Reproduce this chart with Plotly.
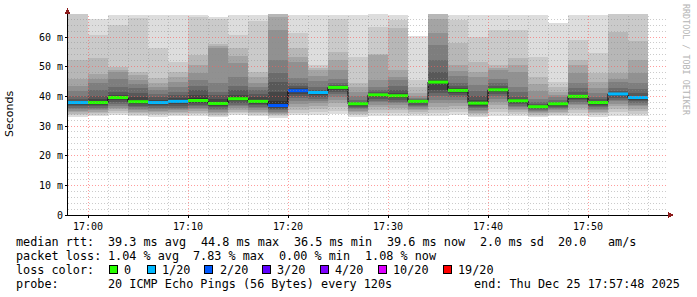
import plotly.graph_objects as go
from datetime import datetime, timedelta

# ---------------- data ----------------
slot_start = [
    "2025-12-25 16:58", "2025-12-25 17:00", "2025-12-25 17:02", "2025-12-25 17:04",
    "2025-12-25 17:06", "2025-12-25 17:08", "2025-12-25 17:10", "2025-12-25 17:12",
    "2025-12-25 17:14", "2025-12-25 17:16", "2025-12-25 17:18", "2025-12-25 17:20",
    "2025-12-25 17:22", "2025-12-25 17:24", "2025-12-25 17:26", "2025-12-25 17:28",
    "2025-12-25 17:30", "2025-12-25 17:32", "2025-12-25 17:34", "2025-12-25 17:36",
    "2025-12-25 17:38", "2025-12-25 17:40", "2025-12-25 17:42", "2025-12-25 17:44",
    "2025-12-25 17:46", "2025-12-25 17:48", "2025-12-25 17:50", "2025-12-25 17:52",
    "2025-12-25 17:54",
]
step_seconds = 120

median_ms = [37.9, 37.9, 39.6, 38.2, 37.9, 38.3, 38.6, 37.6, 39.2, 38.3,
             36.9, 41.9, 41.3, 43.0, 37.5, 40.5, 40.2, 38.3, 44.8, 42.0,
             37.7, 42.2, 38.5, 36.5, 37.5, 40.0, 37.9, 40.8, 39.6]

loss_count = [1, 0, 0, 0, 1, 1, 0, 0, 0, 0,
              2, 2, 1, 0, 0, 0, 0, 0, 0, 0,
              0, 0, 0, 0, 0, 0, 0, 1, 1]

# 20 pings per round (ms), sorted low -> high
pings_ms = [
    [33.3, 33.8, 34.3, 34.8, 35.3, 35.8, 36.4, 36.9, 37.3, 37.7, 38.1, 38.6, 39.0, 40.0, 41.7, 43.4, 46.0, 52.2, 68.5, 72.0],
    [33.5, 34.0, 34.5, 35.0, 35.4, 35.9, 36.3, 36.8, 37.2, 37.6, 38.2, 39.0, 40.2, 42.0, 44.6, 46.0, 47.5, 52.8, 60.7, 66.0],
    [33.6, 34.3, 35.0, 35.8, 36.4, 37.0, 37.6, 38.2, 38.8, 39.4, 39.8, 40.4, 41.5, 43.2, 46.0, 48.3, 49.0, 50.0, 64.0, 67.4],
    [33.4, 33.9, 34.4, 35.0, 35.5, 36.0, 36.5, 37.0, 37.5, 37.9, 38.8, 39.9, 41.0, 42.7, 44.0, 45.5, 47.2, 48.3, 66.3, 67.5],
    [33.3, 33.8, 34.3, 34.8, 35.3, 35.8, 36.3, 36.8, 37.2, 37.6, 38.2, 38.8, 39.8, 40.8, 42.1, 43.2, 44.5, 46.1, 56.4, 67.5],
    [33.4, 33.9, 34.4, 34.9, 35.4, 35.9, 36.4, 37.0, 37.5, 38.0, 38.6, 39.3, 40.3, 41.5, 43.0, 45.0, 46.5, 48.3, 51.5, 67.5],
    [33.5, 34.1, 34.7, 35.3, 35.9, 36.4, 36.9, 37.4, 37.9, 38.3, 39.3, 40.5, 42.1, 43.5, 45.5, 47.8, 50.5, 54.0, 66.8, 67.5],
    [33.2, 33.6, 34.0, 34.5, 35.0, 35.5, 36.0, 36.5, 36.9, 37.3, 38.0, 39.0, 40.5, 41.6, 44.4, 56.5, 57.0, 57.5, 66.3, 66.8],
    [33.6, 34.3, 35.0, 35.6, 36.2, 36.8, 37.4, 38.0, 38.5, 39.0, 39.6, 40.6, 42.0, 43.5, 46.5, 51.2, 53.5, 56.3, 60.7, 67.5],
    [33.4, 33.9, 34.4, 35.0, 35.5, 36.1, 36.6, 37.1, 37.6, 38.0, 38.8, 39.8, 40.8, 42.0, 43.0, 44.5, 46.5, 48.2, 65.5, 67.5],
    [33.0, 33.4, 33.8, 34.2, 34.6, 35.0, 35.4, 35.8, 36.2, 36.6, 38.5, 41.5, 45.0, 47.8, 52.2, 62.4, 66.8, 68.5, 70.0, 72.0],
    [33.6, 34.5, 35.5, 36.5, 37.5, 38.4, 39.3, 40.2, 41.0, 41.6, 42.2, 42.8, 43.5, 44.6, 46.2, 51.5, 53.3, 56.3, 61.3, 67.5],
    [33.8, 34.8, 35.8, 36.8, 37.7, 38.5, 39.2, 39.9, 40.5, 41.0, 41.5, 41.8, 42.3, 43.3, 45.2, 46.9, 48.9, 49.7, 50.5, 67.5],
    [33.9, 35.2, 36.5, 37.7, 38.8, 39.8, 40.7, 41.5, 42.2, 42.8, 43.2, 43.4, 43.8, 44.6, 46.0, 49.0, 52.2, 55.0, 66.0, 67.5],
    [33.3, 33.8, 34.3, 34.8, 35.3, 35.8, 36.2, 36.6, 37.0, 37.3, 37.7, 37.9, 38.3, 38.8, 40.2, 41.6, 43.0, 44.5, 53.3, 67.5],
    [33.5, 34.5, 35.5, 36.4, 37.2, 38.0, 38.7, 39.3, 39.8, 40.2, 40.7, 41.0, 41.6, 42.2, 43.3, 45.5, 54.0, 54.2, 63.5, 68.5],
    [33.5, 34.4, 35.3, 36.2, 37.0, 37.7, 38.4, 39.0, 39.5, 39.9, 40.4, 41.0, 42.1, 43.5, 45.5, 46.5, 48.9, 62.9, 65.7, 67.5],
    [33.4, 34.1, 34.8, 35.4, 36.0, 36.5, 37.0, 37.4, 37.8, 38.1, 38.4, 38.6, 38.8, 39.1, 39.6, 40.2, 41.0, 43.3, 45.5, 60.5],
    [33.5, 34.4, 35.5, 36.5, 37.7, 38.8, 40.0, 41.2, 42.1, 44.5, 45.1, 45.5, 48.3, 52.2, 57.3, 61.2, 66.2, 70.0, 72.0, 75.0],
    [33.6, 34.7, 35.8, 36.8, 37.8, 38.8, 39.7, 40.5, 41.2, 41.8, 42.3, 43.0, 43.6, 44.6, 47.0, 48.5, 50.5, 57.9, 65.7, 67.5],
    [33.2, 33.7, 34.2, 34.7, 35.2, 35.7, 36.2, 36.6, 37.0, 37.4, 38.0, 38.8, 40.2, 41.8, 43.9, 46.6, 48.3, 51.7, 60.1, 67.5],
    [33.5, 34.7, 35.9, 37.0, 38.1, 39.1, 40.0, 40.8, 41.5, 42.0, 42.4, 42.8, 43.5, 44.4, 46.0, 48.9, 49.6, 50.5, 62.4, 67.5],
    [33.4, 34.1, 34.8, 35.4, 36.0, 36.5, 37.0, 37.5, 37.9, 38.3, 38.8, 39.2, 39.9, 41.5, 43.3, 48.3, 50.5, 53.0, 62.4, 67.5],
    [33.2, 33.6, 34.0, 34.4, 34.8, 35.1, 35.5, 35.8, 36.1, 36.4, 36.8, 37.0, 37.5, 38.2, 39.2, 41.7, 44.0, 46.6, 53.4, 67.5],
    [33.4, 34.0, 34.5, 35.0, 35.5, 35.9, 36.3, 36.7, 37.0, 37.3, 37.7, 37.9, 38.2, 38.8, 39.9, 40.6, 41.3, 43.0, 45.0, 64.6],
    [33.4, 34.4, 35.3, 36.2, 37.0, 37.7, 38.3, 38.9, 39.4, 39.8, 40.2, 40.5, 41.5, 42.8, 44.4, 47.8, 50.5, 52.2, 59.0, 67.5],
    [33.3, 33.9, 34.5, 35.0, 35.5, 36.0, 36.5, 36.9, 37.3, 37.7, 38.1, 38.4, 39.0, 39.9, 41.0, 42.7, 45.0, 47.8, 54.5, 67.5],
    [33.5, 34.6, 35.6, 36.6, 37.5, 38.3, 39.0, 39.6, 40.2, 40.6, 40.9, 41.2, 41.8, 42.8, 45.0, 46.0, 47.8, 61.8, 68.5, 70.0],
    [33.3, 34.2, 35.0, 35.8, 36.6, 37.3, 37.9, 38.5, 39.0, 39.4, 39.8, 40.2, 41.0, 42.5, 44.4, 48.0, 52.2, 58.5, 68.5, 70.0],
]

y_ticks = [0, 10, 20, 30, 40, 50, 60]
y_tick_text = ["0", "10 m", "20 m", "30 m", "40 m", "50 m", "60 m"]

loss_levels = [0, 1, 2, 3, 4, 10, 19]
loss_labels = ["0", "1/20", "2/20", "3/20", "4/20", "10/20", "19/20"]
loss_colors = ["#26ff00", "#00b8ff", "#0059ff", "#5e00ff", "#7e00ff", "#dd00ff", "#ff0000"]

rtt_stats = ["39.3 ms avg", "44.8 ms max", "36.5 ms min", "39.6 ms now", "2.0 ms sd", "20.0", "am/s"]
loss_stats = ["1.04 % avg", "7.83 % max", "0.00 % min", "1.08 % now"]
probe_text = "20 ICMP Echo Pings (56 Bytes) every 120s"
end_text = "end: Thu Dec 25 17:57:48 2025"

# ---------------- layout geometry (pixels) ----------------
W, H = 697, 297
PL, PR, PT, PB = 68, 668, 14, 215
PX_PER_MS = (215 - 37) / 60.0
y_top = (PB - PT) / PX_PER_MS


def px(x):
    return (x - PL) / (PR - PL)


def py(y):
    return (PB - y) / (PB - PT)


starts = [datetime.strptime(s, "%Y-%m-%d %H:%M") for s in slot_start]
ends = [s + timedelta(seconds=step_seconds) for s in starts]
x_min = starts[0]
x_max = starts[0] + timedelta(minutes=60)

fig = go.Figure()

# ---------------- smoke ----------------
n = 20
half = n / 2
for j in range(1, n):  # band between ping j and j+1 (1-based)
    k = min(j, n - j)
    v = int(190 / half * (half - k)) + 50
    col = "#%02x%02x%02x" % (v, v, v)
    bases, heights = [], []
    for p in pings_ms:
        ps = sorted(p)
        bases.append(ps[j - 1])
        heights.append(ps[j] - ps[j - 1])
    fig.add_trace(go.Bar(
        x=starts, y=heights, base=bases, offset=0, width=step_seconds * 1000,
        marker=dict(color=col, line=dict(width=0)), showlegend=False,
        hoverinfo="skip",
    ))

# ---------------- median ----------------
fig.add_trace(go.Scatter(
    x=starts + [ends[-1]], y=median_ms + [median_ms[-1]],
    mode="lines", line=dict(color="#000000", width=1, shape="hv"),
    showlegend=False, hoverinfo="skip",
))
for lvl, col in zip(loss_levels, loss_colors):
    xs, ys = [], []
    for s, e, m, lc in zip(starts, ends, median_ms, loss_count):
        if lc == lvl:
            xs += [s, e, None]
            ys += [m, m, None]
    if xs:
        fig.add_trace(go.Scatter(
            x=xs, y=ys, mode="lines", line=dict(color=col, width=3),
            showlegend=False, hoverinfo="skip",
        ))

shapes = []
minor_col = "rgba(140,140,140,0.45)"
major_col = "rgba(255,90,90,0.6)"
DASH = "1px,2px"
# horizontal grid
for v in range(2, int(y_top) + 1, 2):
    shapes.append(dict(type="line", xref="paper", yref="y", x0=0, x1=1, y0=v, y1=v,
                       line=dict(color=major_col if v % 10 == 0 else minor_col, width=1, dash=DASH),
                       layer="above"))
# vertical grid
t = x_min + timedelta(minutes=2)
while t < x_max:
    major = (t.minute % 10 == 0)
    shapes.append(dict(type="line", xref="x", yref="paper", x0=t, x1=t, y0=0, y1=1,
                       line=dict(color=major_col if major else minor_col, width=1, dash=DASH),
                       layer="above"))
    t += timedelta(minutes=2)

# axis arrows
arrow_col = "#8b1a1a"
shapes.append(dict(type="path", xref="paper", yref="paper",
                   path="M %f,%f L %f,%f L %f,%f Z" % (px(64.5), py(14), px(67.5), py(8), px(70.5), py(14)),
                   fillcolor=arrow_col, line=dict(color=arrow_col, width=0), layer="above"))
shapes.append(dict(type="path", xref="paper", yref="paper",
                   path="M %f,%f L %f,%f L %f,%f Z" % (px(668), py(212), px(674), py(215), px(668), py(218)),
                   fillcolor=arrow_col, line=dict(color=arrow_col, width=0), layer="above"))

annotations = []
mono = "DejaVu Sans Mono"
LF = 11.8


def txt(x, y, s, size=LF, color="#000000", family=mono, xanchor="left", angle=0):
    annotations.append(dict(
        x=px(x), y=py(y), xref="paper", yref="paper", text=s.replace(" ", "\u00a0"),
        showarrow=False, xanchor=xanchor, yanchor="middle", textangle=angle,
        font=dict(family=family, size=size, color=color), borderpad=0,
    ))


# y title and watermark
txt(10, 114, "Seconds", size=11, family="DejaVu Sans", xanchor="center", angle=-90)
txt(686, 60, "RRDTOOL / TOBI OETIKER", size=8.4, color="#b4b4b4", xanchor="center", angle=90)

# legend block
y1, y2, y3, y4 = 241.5, 255.5, 269.5, 284
txt(15, y1, "median rtt:")
for s, x in zip(rtt_stats, [106.5, 199.5, 292.5, 386, 479, 557, 606.5]):
    txt(x, y1, s)
txt(15, y2, "packet loss:")
for s, x in zip(loss_stats, [106.5, 192, 278, 363.5]):
    txt(x, y2, s)
txt(15, y3, "loss color:")
box_x = [109, 147, 204.5, 262, 320, 378, 443]
for bx, lab, col in zip(box_x, loss_labels, loss_colors):
    shapes.append(dict(type="rect", xref="paper", yref="paper",
                       x0=px(bx), x1=px(bx + 8), y0=py(273.5), y1=py(265),
                       fillcolor=col, line=dict(color="#000000", width=1), layer="above"))
    txt(bx + 14, y3, lab)
txt(15, y4, "probe:")
txt(106.5, y4, probe_text)
txt(681, y4, end_text, xanchor="right")

axis_font = dict(family=mono, size=10, color="#000000")
fig.update_layout(
    width=W, height=H,
    margin=dict(l=PL, r=W - PR, t=PT, b=H - PB, pad=0),
    paper_bgcolor="#ffffff", plot_bgcolor="#ffffff",
    barmode="overlay", bargap=0, showlegend=False,
    shapes=shapes, annotations=annotations,
    xaxis=dict(type="date", range=[x_min, x_max], showgrid=False, zeroline=False,
               showline=True, linecolor="#000000", linewidth=1,
               tickmode="array", tickvals=[x_min + timedelta(minutes=m) for m in (2, 12, 22, 32, 42, 52)],
               tickformat="%H:%M", ticks="outside", ticklen=2, tickcolor="#000000",
               tickfont=axis_font, layer="above traces"),
    yaxis=dict(range=[0, y_top], showgrid=False, zeroline=False,
               showline=True, linecolor="#000000", linewidth=1,
               tickmode="array", tickvals=y_ticks, ticktext=y_tick_text,
               ticks="outside", ticklen=2, tickcolor="#000000",
               tickfont=axis_font, layer="above traces"),
)

post = ("document.querySelectorAll('.shapelayer path').forEach(function(p){"
        "p.style.shapeRendering='crispEdges';});")
fig.write_html("out.html", post_script=post)
